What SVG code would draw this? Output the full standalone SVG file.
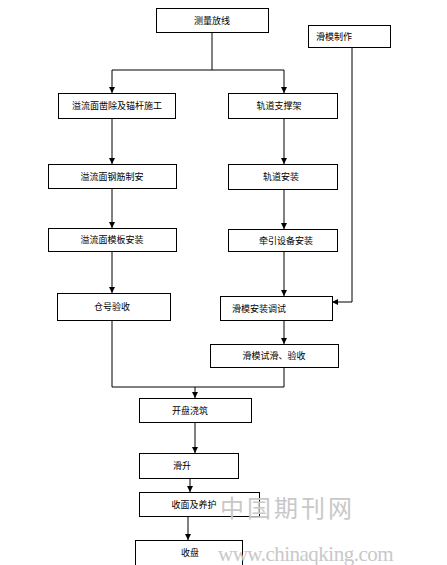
<svg xmlns="http://www.w3.org/2000/svg" width="447" height="565" viewBox="0 0 447 565">
<style>
.b{fill:#fff;stroke:#000;stroke-width:1}
.t{font-family:"Noto Sans CJK SC","Noto Sans CJK JP",sans-serif;font-size:9px;fill:#000}
.c{fill:none;stroke:#000;stroke-width:1}
.w{font-family:"Liberation Serif","Noto Sans CJK SC",serif;fill:#c8c8c8}
</style>
<defs>
<marker id="a" viewBox="0 0 6 6" refX="6" refY="3" markerWidth="6" markerHeight="6" markerUnits="userSpaceOnUse" orient="auto">
<path d="M0,0 L6,3 L0,6 z" fill="#000"/>
</marker>
</defs>
<rect width="447" height="565" fill="#fff"/>
<g id="connectors">
<path class="c" d="M212,32 V70 M112,70 H284"/>
<path class="c" d="M112,70 V93" marker-end="url(#a)"/>
<path class="c" d="M284,70 V93" marker-end="url(#a)"/>
<path class="c" d="M112,118 V164" marker-end="url(#a)"/>
<path class="c" d="M112,188 V228" marker-end="url(#a)"/>
<path class="c" d="M112,251 V293" marker-end="url(#a)"/>
<path class="c" d="M284,118 V164" marker-end="url(#a)"/>
<path class="c" d="M284,189 V229" marker-end="url(#a)"/>
<path class="c" d="M284,251 V296" marker-end="url(#a)"/>
<path class="c" d="M352,47 V302 H332" marker-end="url(#a)"/>
<path class="c" d="M284,320 V344" marker-end="url(#a)"/>
<path class="c" d="M112,320 V387 H284 V367"/>
<path class="c" d="M195,387 V398" marker-end="url(#a)"/>
<path class="c" d="M195,422 V453" marker-end="url(#a)"/>
<path class="c" d="M190,478 V492" marker-end="url(#a)"/>
<path class="c" d="M188,516 V540" marker-end="url(#a)"/>
</g>
<g id="n1"><rect class="b" x="156.5" y="8.5" width="112" height="24"/><text class="t" x="212" y="24" text-anchor="middle">测量放线</text></g>
<g id="n2"><rect class="b" x="308.5" y="25.5" width="82" height="22"/><text class="t" x="316" y="40">滑模制作</text></g>
<g id="n3"><rect class="b" x="58.5" y="93.5" width="117" height="25"/><text class="t" x="117" y="109" text-anchor="middle">溢流面凿除及锚杆施工</text></g>
<g id="n4"><rect class="b" x="228.5" y="93.5" width="109" height="25"/><text class="t" x="279" y="109" text-anchor="middle">轨道支撑架</text></g>
<g id="n5"><rect class="b" x="48.5" y="164.5" width="128" height="24"/><text class="t" x="112" y="180" text-anchor="middle">溢流面钢筋制安</text></g>
<g id="n6"><rect class="b" x="228.5" y="164.5" width="109" height="25"/><text class="t" x="281" y="180" text-anchor="middle">轨道安装</text></g>
<g id="n7"><rect class="b" x="48.5" y="228.5" width="128" height="23"/><text class="t" x="112" y="243" text-anchor="middle">溢流面模板安装</text></g>
<g id="n8"><rect class="b" x="228.5" y="229.5" width="109" height="22"/><text class="t" x="286" y="244" text-anchor="middle">牵引设备安装</text></g>
<g id="n9"><rect class="b" x="57.5" y="293.5" width="113" height="27"/><text class="t" x="112" y="310" text-anchor="middle">仓号验收</text></g>
<g id="n10"><rect class="b" x="220.5" y="296.5" width="112" height="24"/><text class="t" x="259" y="312" text-anchor="middle">滑模安装调试</text></g>
<g id="n11"><rect class="b" x="210.5" y="344.5" width="128" height="23"/><text class="t" x="274" y="359" text-anchor="middle">滑模试滑、验收</text></g>
<g id="n12"><rect class="b" x="139.5" y="398.5" width="112" height="24"/><text class="t" x="190" y="414" text-anchor="middle">开盘浇筑</text></g>
<g id="n13"><rect class="b" x="139.5" y="453.5" width="99" height="25"/><text class="t" x="182" y="469" text-anchor="middle">滑升</text></g>
<g id="n14"><rect class="b" x="139.5" y="492.5" width="120" height="24"/><text class="t" x="194" y="508" text-anchor="middle">收面及养护</text></g>
<g id="n15"><rect class="b" x="135.5" y="540.5" width="107" height="25"/><text class="t" x="190" y="556" text-anchor="middle">收盘</text></g>
<g id="watermark">
<text class="w" x="220" y="517" font-size="24" letter-spacing="3">中国期刊网</text>
<text class="w" x="218" y="561" font-size="21" font-family="Liberation Mono,monospace" letter-spacing="-0.5">www.chinaqking.com</text>
</g>
</svg>
